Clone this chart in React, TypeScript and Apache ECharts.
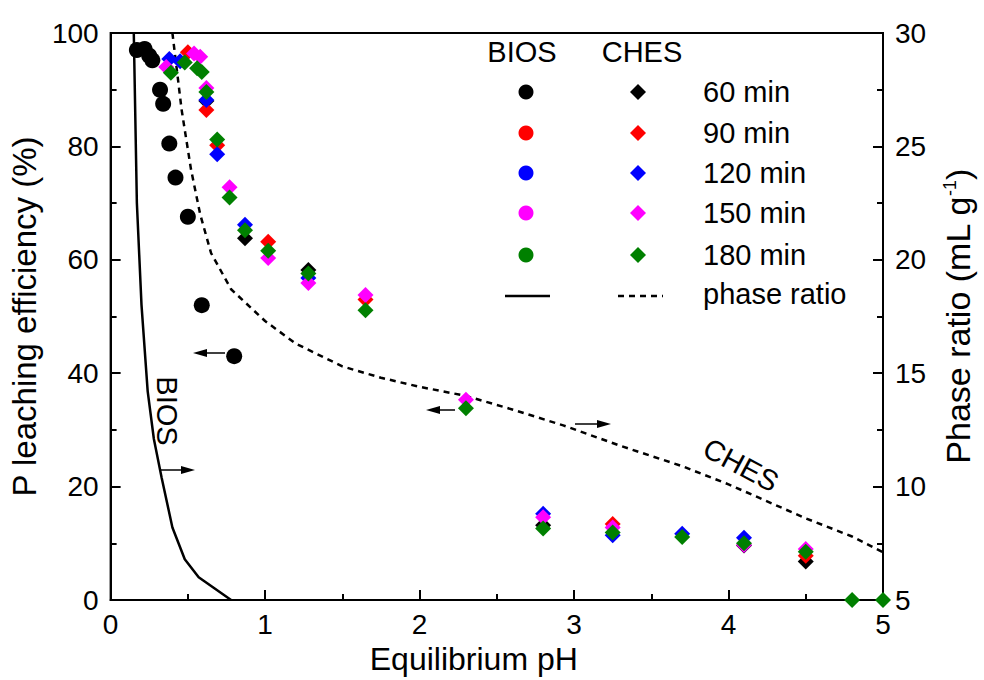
import React, { useEffect, useRef } from 'react';
import * as echarts from 'echarts';

const FONT = '"Liberation Sans", Arial, sans-serif';

const timeLabels = ['60 min', '90 min', '120 min', '150 min', '180 min'];
const timeColors = ['#000000', '#ff0000', '#0000ff', '#ff00ff', '#008000'];

// BIOS, 60 min (others hidden underneath)
const biosEfficiency60 = [
  [0.17, 97], [0.22, 97.2], [0.25, 96], [0.27, 95.2], [0.32, 90], [0.34, 87.5],
  [0.38, 80.5], [0.42, 74.5], [0.5, 67.6], [0.59, 52], [0.8, 43],
];

const ches60 = [[0.62, 88], [0.87, 63.8], [1.28, 58.2], [2.8, 13.2], [4.1, 9.6], [4.5, 6.8]];
const ches90 = [[0.5, 96.6], [0.62, 86.4], [0.69, 80.2], [1.02, 63.2], [1.65, 53], [3.25, 13.4], [4.5, 7.8]];
const ches120 = [[0.38, 95.4], [0.45, 95], [0.62, 88.2], [0.69, 78.6], [0.87, 66.2], [1.28, 56.8], [2.8, 15.2], [3.25, 11.4], [3.7, 11.7], [4.1, 11.0]];
const ches150 = [[0.36, 94], [0.54, 96.4], [0.58, 95.8], [0.62, 90.3], [0.77, 72.8], [1.02, 60.3], [1.28, 55.9], [1.65, 53.8], [2.3, 35.3], [2.8, 14.6], [3.25, 12.8], [4.1, 9.7], [4.5, 9.0]];
const ches180 = [[0.39, 93], [0.48, 94.8], [0.56, 93.8], [0.59, 93.1], [0.62, 89.6], [0.69, 81.2], [0.77, 71], [0.87, 65.2], [1.02, 61.6], [1.28, 57.6], [1.65, 51.1], [2.3, 33.8], [2.8, 12.6], [3.25, 11.9], [3.7, 11.1], [4.1, 10.0], [4.5, 8.5], [4.8, 0], [5.0, 0]];
const chesSeries = [ches60, ches90, ches120, ches150, ches180];

const biosPhaseRatio = [
  [0.15, 30], [0.17, 22.5], [0.2, 18], [0.24, 14.2], [0.28, 12.1], [0.33, 10.4],
  [0.4, 8.2], [0.48, 6.8], [0.57, 6.0], [0.78, 5.0],
];
const chesPhaseRatio = [
  [0.4, 30], [0.46, 26.6], [0.52, 24], [0.58, 22], [0.65, 20.3], [0.78, 18.7], [1.0, 17.3],
  [1.2, 16.3], [1.5, 15.3], [1.75, 14.8], [2.0, 14.4], [2.3, 14.0], [2.6, 13.4], [2.93, 12.7],
  [3.3, 11.8], [3.7, 10.9], [4.0, 10.1], [4.2, 9.5], [4.5, 8.6], [4.8, 7.8], [5.0, 7.1],
];

const xTicks = { min: 0, max: 5, interval: 1 };
const leftTicks = { min: 0, max: 100, interval: 20 };
const rightTicks = { min: 5, max: 30, interval: 5 };

function arrow(x1: number, x2: number, y: number) {
  const dir = Math.sign(x2 - x1);
  return [
    { type: 'line', shape: { x1, y1: y, x2: x2 - dir * 10, y2: y }, style: { stroke: '#000', lineWidth: 1.5 }, z: 20 },
    { type: 'polygon', shape: { points: [[x2, y], [x2 - dir * 14, y - 4], [x2 - dir * 14, y + 4]] }, style: { fill: '#000' }, z: 20 },
  ];
}

export default function App() {
  const ref = useRef<HTMLDivElement>(null);
  useEffect(() => {
    if (!ref.current) return;
    const chart = echarts.init(ref.current, undefined, { renderer: 'svg' });
    const axisCommon = {
      type: 'value',
      axisLine: { show: true, lineStyle: { color: '#000', width: 2 } },
      axisTick: { show: true, inside: true, length: 10, lineStyle: { color: '#000', width: 2 } },
      minorTick: { show: true, splitNumber: 2, length: 6, lineStyle: { color: '#000', width: 2 } },
      splitLine: { show: false },
      axisLabel: { color: '#000', fontSize: 28, fontFamily: FONT },
      nameTextStyle: { color: '#000', fontSize: 33, fontFamily: FONT },
      nameLocation: 'middle',
    };
    const legendGraphics: any[] = [];
    const rowY = [92, 133, 173, 213, 255];
    const lf = 29;
    legendGraphics.push({ type: 'text', x: 522, y: 52, style: { text: 'BIOS', fontSize: lf, fontFamily: FONT, fill: '#000', align: 'center', verticalAlign: 'middle' } });
    legendGraphics.push({ type: 'text', x: 642, y: 52, style: { text: 'CHES', fontSize: lf, fontFamily: FONT, fill: '#000', align: 'center', verticalAlign: 'middle' } });
    timeLabels.forEach((t, i) => {
      const y = rowY[i];
      legendGraphics.push({ type: 'circle', shape: { cx: 526, cy: y, r: 7.5 }, style: { fill: timeColors[i] } });
      legendGraphics.push({ type: 'polygon', shape: { points: [[638, y - 8], [646, y], [638, y + 8], [630, y]] }, style: { fill: timeColors[i] } });
      legendGraphics.push({ type: 'text', x: 703, y, style: { text: t, fontSize: lf, fontFamily: FONT, fill: '#000', align: 'left', verticalAlign: 'middle' } });
    });
    legendGraphics.push({ type: 'line', shape: { x1: 505, y1: 296, x2: 550, y2: 296 }, style: { stroke: '#000', lineWidth: 2.5 } });
    legendGraphics.push({ type: 'line', shape: { x1: 618, y1: 296, x2: 663, y2: 296 }, style: { stroke: '#000', lineWidth: 2.5, lineDash: [6, 5] } });
    legendGraphics.push({ type: 'text', x: 703, y: 294, style: { text: 'phase ratio', fontSize: lf, fontFamily: FONT, fill: '#000', align: 'left', verticalAlign: 'middle' } });

    const annotations: any[] = [
      ...arrow(225, 193, 353),
      ...arrow(160, 195, 470),
      ...arrow(455, 426, 410),
      ...arrow(575, 611, 424),
      { type: 'text', x: 167, y: 411, rotation: -Math.PI / 2, style: { text: 'BIOS', fontSize: 29, fontFamily: FONT, fill: '#000', align: 'center', verticalAlign: 'middle' }, z: 20 },
      { type: 'text', x: 741, y: 465, rotation: -0.49, style: { text: 'CHES', fontSize: 29, fontFamily: FONT, fill: '#000', align: 'center', verticalAlign: 'middle' }, z: 20 },
    ];

    chart.setOption({
      animation: false,
      backgroundColor: '#fff',
      grid: { left: 110, right: 101, top: 33, bottom: 80, show: true, borderColor: '#000', borderWidth: 2 },
      xAxis: {
        ...axisCommon,
        ...xTicks,
        name: 'Equilibrium pH',
        nameGap: 38,
        nameTextStyle: { ...axisCommon.nameTextStyle, fontSize: 32, padding: [0, 46, 0, 0] },
        axisLabel: { ...axisCommon.axisLabel, margin: 10 },
      },
      yAxis: [
        {
          ...axisCommon,
          ...leftTicks,
          position: 'left',
          name: 'P leaching efficiency (%)',
          nameGap: 64,
          axisLabel: { ...axisCommon.axisLabel, margin: 12 },
        },
        {
          ...axisCommon,
          ...rightTicks,
          position: 'right',
          name: 'Phase ratio (mL g{sup|-1})',
          nameGap: 58,
          nameRotate: 90,
          nameTextStyle: { ...axisCommon.nameTextStyle, fontSize: 34, rich: { sup: { fontSize: 18, verticalAlign: 'top', fontFamily: FONT, color: '#000', padding: [0, 0, 16, 0] } } },
          axisLabel: { ...axisCommon.axisLabel, margin: 12 },
        },
      ],
      series: [
        { name: 'BIOS phase ratio', type: 'line', yAxisIndex: 1, data: biosPhaseRatio, showSymbol: false, symbol: 'none', lineStyle: { color: '#000', width: 2.5 }, z: 3 },
        { name: 'CHES phase ratio', type: 'line', yAxisIndex: 1, data: chesPhaseRatio, showSymbol: false, symbol: 'none', lineStyle: { color: '#000', width: 2.5, type: [6, 5] }, z: 3 },
        { name: 'BIOS 60 min', type: 'scatter', data: biosEfficiency60, symbol: 'circle', symbolSize: 16, itemStyle: { color: timeColors[0], opacity: 1 }, z: 4 },
        ...chesSeries.map((d, i) => ({
          name: 'CHES ' + timeLabels[i], type: 'scatter', data: d, symbol: 'diamond', symbolSize: 16,
          itemStyle: { color: timeColors[i], opacity: 1 }, z: 5,
        })),
      ],
      graphic: [...legendGraphics, ...annotations],
    });
    return () => chart.dispose();
  }, []);
  return <div ref={ref} style={{ width: 984, height: 680, position: 'absolute', left: 0, top: 0 }} />;
}
